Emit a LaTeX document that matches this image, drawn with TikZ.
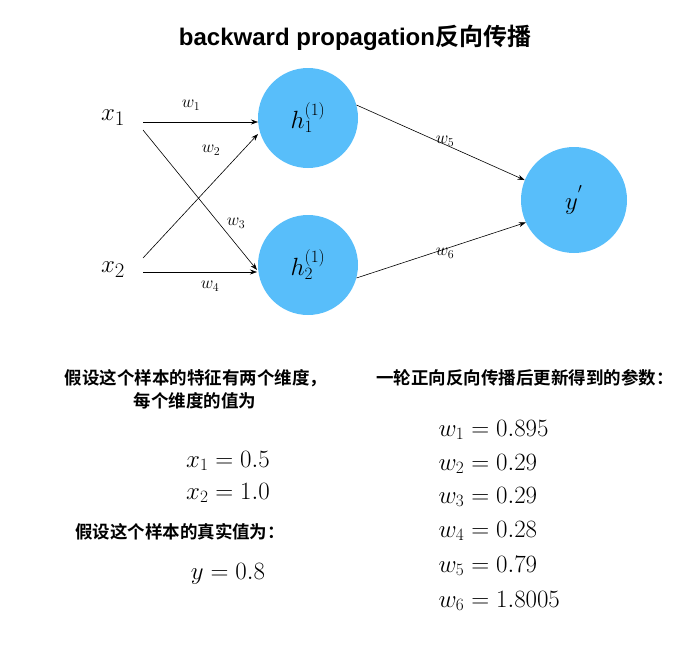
\documentclass[tikz,border=0pt]{standalone}
\usepackage{fontspec}
\newfontfamily\cjk{Noto Sans CJK SC}[BoldFont={Noto Sans CJK SC Bold}]
\newfontfamily\titlefont{Liberation Sans}
\usetikzlibrary{arrows.meta}
\begin{document}
\begin{tikzpicture}[x=1pt,y=-1pt,
  neuron/.style={circle,fill={rgb,255:red,88;green,190;blue,250},minimum size=100pt,inner sep=0pt,font=\fontsize{27}{30}\selectfont},
  inp/.style={font=\fontsize{28}{30}\selectfont},
  wl/.style={font=\fontsize{18}{20}\selectfont},
  conn/.style={-{Stealth[length=7pt,width=5pt]},line width=0.6pt},
  cn/.style={font=\cjk\bfseries\fontsize{17.5}{20}\selectfont},
  val/.style={font=\fontsize{23}{26}\selectfont}]
\useasboundingbox (0,0) rectangle (686,645);
\node[font=\titlefont\bfseries\fontsize{24}{27}\selectfont] (t) at (355,38) {backward propagation{\cjk\bfseries 反向传播}};
\node[neuron] (h1) at (308,118) {$h_1^{(1)}$};
\node[neuron] (h2) at (308,265) {$h_2^{(1)}$};
\node[neuron,minimum size=106pt] (y) at (574,200) {$y^{'}$};
\node[inp] (x1) at (113,118) {$x_1$};
\node[inp] (x2) at (113,270) {$x_2$};
\coordinate (a1) at (143,122); \coordinate (b1) at (258,122);
\coordinate (a2) at (143,130); \coordinate (b2) at (257,270);
\coordinate (a3) at (143,258); \coordinate (b3) at (258,134);
\coordinate (a4) at (143,272); \coordinate (b4) at (257,272);
\draw[conn] (a1) -- (b1);
\draw[conn] (a2) -- (b2);
\draw[conn] (a3) -- (b3);
\draw[conn] (a4) -- (b4);
\draw[conn] (h1.15) -- (y.158);
\draw[conn] (h2.-15) -- (y.205);
\node[wl] (w1) at (191,105) {$w_1$};
\node[wl] (w2) at (211,150) {$w_2$};
\node[wl] (w3) at (236,223) {$w_3$};
\node[wl] (w4) at (210,286) {$w_4$};
\node[wl] (w5) at (445,141) {$w_5$};
\node[wl] (w6) at (445,253) {$w_6$};
\node[cn] (l1) at (196,378) {假设这个样本的特征有两个维度，};
\node[cn] (l2) at (195,401) {每个维度的值为};
\node[val] (v1) at (228,461) {$x_1 = 0.5$};
\node[val] (v2) at (228,493) {$x_2 = 1.0$};
\node[cn] (l3) at (180,532) {假设这个样本的真实值为：};
\node[val] (v3) at (228,574) {$y = 0.8$};
\node[cn] (r1) at (525,378) {一轮正向反向传播后更新得到的参数：};
\begin{scope}[every node/.style={val,anchor=west}]
\node (p1) at (435,430) {$w_1 = 0.895$};
\node (p2) at (435,464) {$w_2 = 0.29$};
\node (p3) at (435,497) {$w_3 = 0.29$};
\node (p4) at (435,531) {$w_4 = 0.28$};
\node (p5) at (435,566) {$w_5 = 0.79$};
\node (p6) at (435,601) {$w_6 = 1.8005$};
\end{scope}
\end{tikzpicture}
\end{document}
